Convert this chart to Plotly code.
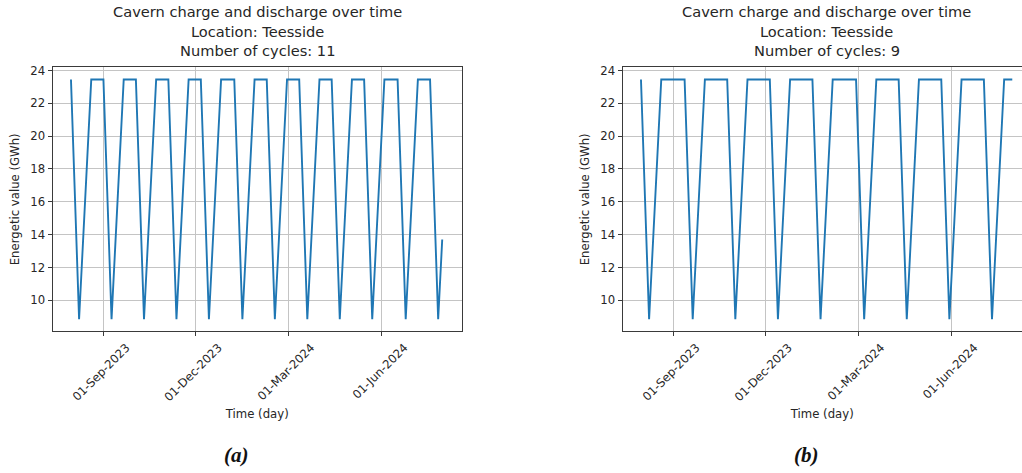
import plotly.graph_objects as go

# ---- data (vertices of the charge/discharge profile) ----
dates_a = ["2023-07-31", "2023-08-08", "2023-08-20", "2023-09-01", "2023-09-09",
           "2023-09-21", "2023-10-03", "2023-10-11", "2023-10-23", "2023-11-04",
           "2023-11-12", "2023-11-24", "2023-12-06", "2023-12-14", "2023-12-26",
           "2024-01-08", "2024-01-16", "2024-01-28", "2024-02-09", "2024-02-17",
           "2024-02-29", "2024-03-12", "2024-03-20", "2024-04-01", "2024-04-13",
           "2024-04-21", "2024-05-03", "2024-05-15", "2024-05-23", "2024-06-04",
           "2024-06-17", "2024-06-25", "2024-07-07", "2024-07-19", "2024-07-27",
           "2024-07-31"]
values_a = [23.45, 8.85, 23.45, 23.45, 8.85,
            23.45, 23.45, 8.85, 23.45, 23.45,
            8.85, 23.45, 23.45, 8.85, 23.45,
            23.45, 8.85, 23.45, 23.45, 8.85,
            23.45, 23.45, 8.85, 23.45, 23.45,
            8.85, 23.45, 23.45, 8.85, 23.45,
            23.45, 8.85, 23.45, 23.45, 8.85,
            13.7]

dates_b = ["2023-07-31", "2023-08-08", "2023-08-20", "2023-09-12", "2023-09-20",
           "2023-10-02", "2023-10-24", "2023-11-01", "2023-11-13", "2023-12-05",
           "2023-12-13", "2023-12-25", "2024-01-16", "2024-01-24", "2024-02-05",
           "2024-02-28", "2024-03-07", "2024-03-19", "2024-04-10", "2024-04-18",
           "2024-04-30", "2024-05-22", "2024-05-30", "2024-06-11", "2024-07-03",
           "2024-07-11", "2024-07-23", "2024-07-31"]
values_b = [23.45, 8.85, 23.45, 23.45, 8.85,
            23.45, 23.45, 8.85, 23.45, 23.45,
            8.85, 23.45, 23.45, 8.85, 23.45,
            23.45, 8.85, 23.45, 23.45, 8.85,
            23.45, 23.45, 8.85, 23.45, 23.45,
            8.85, 23.45, 23.45]

x_tickvals = ["2023-09-01", "2023-12-01", "2024-03-01", "2024-06-01"]
x_ticktext = ["01-Sep-2023", "01-Dec-2023", "01-Mar-2024", "01-Jun-2024"]
y_tickvals = [10, 12, 14, 16, 18, 20, 22, 24]

title_line1 = "Cavern charge and discharge over time"
title_line2 = "Location: Teesside"
cycles = [11, 9]
captions = ["(a)", "(b)"]

W, H = 1022, 473
FONT = "DejaVu Sans"
TXT = "#262626"
LINE = "#1f77b4"
GRID = "#c4c4c4"
SPINE = "#3a3a3a"
FS = 11.7

# pixel geometry
ax_left = [52.5, 622.5]
ax_right = [462.0, 1022.0]
ax_top, ax_bot = 64.0, 330.0

fig = go.Figure()
fig.add_trace(go.Scatter(x=dates_a, y=values_a, mode="lines",
                         line=dict(color=LINE, width=1.9), xaxis="x", yaxis="y",
                         showlegend=False))
fig.add_trace(go.Scatter(x=dates_b, y=values_b, mode="lines",
                         line=dict(color=LINE, width=1.9), xaxis="x2", yaxis="y2",
                         showlegend=False))

ydom = [1 - ax_bot / H, 1 - ax_top / H]
xranges = [["2023-07-12 19:00", "2024-08-19 12:00"],
           ["2023-07-12 19:00", "2024-08-09 14:00"]]

def xaxis_cfg(i, mirror):
    return dict(
        domain=[ax_left[i] / W, ax_right[i] / W],
        type="date", range=xranges[i],
        tickvals=x_tickvals, ticktext=x_ticktext,
        tickangle=-45, ticklabelshift=23, ticklabelstandoff=0,
        ticks="outside", ticklen=4, tickwidth=1, tickcolor=SPINE,
        showgrid=True, gridcolor=GRID, gridwidth=1,
        showline=True, linecolor=SPINE, linewidth=1, mirror=mirror,
        zeroline=False,
        tickfont=dict(family=FONT, size=FS, color=TXT),
        title=dict(text="Time (day)", font=dict(family=FONT, size=FS, color=TXT), standoff=6),
        anchor="y" if i == 0 else "y2",
    )

def yaxis_cfg(i, mirror):
    return dict(
        domain=ydom, range=[8.12, 24.18],
        tickvals=y_tickvals,
        ticks="outside", ticklen=4, tickwidth=1, tickcolor=SPINE,
        showgrid=True, gridcolor=GRID, gridwidth=1,
        showline=True, linecolor=SPINE, linewidth=1, mirror=mirror,
        zeroline=False,
        tickfont=dict(family=FONT, size=FS, color=TXT),
        title=dict(text="Energetic value (GWh)", font=dict(family=FONT, size=FS, color=TXT), standoff=8),
        anchor="x" if i == 0 else "x2",
    )

annotations = []
centers = [(ax_left[0] + ax_right[0]) / 2, 826.7]
for i in range(2):
    cx = centers[i] / W
    for txt, ypix in [(title_line1, 8.0), (title_line2, 27.5), (f"Number of cycles: {cycles[i]}", 46.5)]:
        annotations.append(dict(text=txt, x=cx, y=1 - ypix / H, xref="paper", yref="paper",
                                xanchor="center", yanchor="middle", showarrow=False,
                                font=dict(family=FONT, size=14.6, color=TXT)))
    capx = [236.5, 806.5][i] / W
    annotations.append(dict(text=f"<b><i>{captions[i]}</i></b>", x=capx, y=1 - 455 / H,
                            xref="paper", yref="paper", xanchor="center", yanchor="middle",
                            showarrow=False,
                            font=dict(family="Liberation Serif", size=21, color="#111111")))

fig.update_layout(
    width=W, height=H,
    margin=dict(l=0, r=0, t=0, b=0),
    paper_bgcolor="white", plot_bgcolor="white",
    xaxis=xaxis_cfg(0, True), yaxis=yaxis_cfg(0, True),
    xaxis2=xaxis_cfg(1, True), yaxis2=yaxis_cfg(1, False),
    annotations=annotations,
    showlegend=False,
)

# remove the browser's default page margin so the figure sits at the window origin
fig.write_html("out.html", config={"displayModeBar": False},
               post_script="document.body.style.margin='0';document.body.style.overflow='hidden';")
